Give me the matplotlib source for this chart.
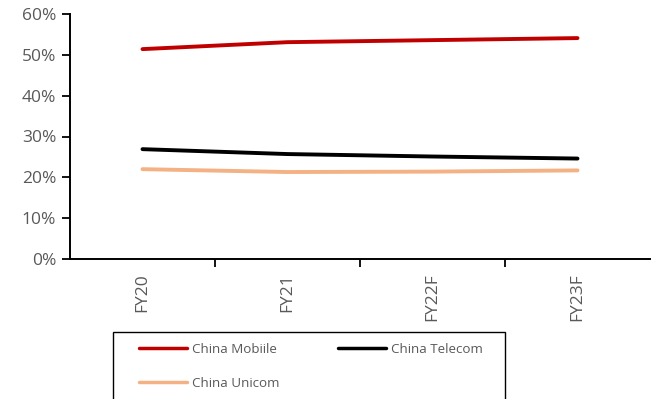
import matplotlib
matplotlib.use('Agg')
import matplotlib.pyplot as plt
from matplotlib.patches import Rectangle
from matplotlib.ticker import FuncFormatter

years = ['FY20', 'FY21', 'FY22F', 'FY23F']
china_mobile = [51.4, 53.1, 53.6, 54.1]
china_telecom = [26.9, 25.7, 25.1, 24.6]
china_unicom = [22.0, 21.3, 21.4, 21.7]

plt.rcParams['font.family'] = ['Open Sans', 'DejaVu Sans']
grey = '#595959'
W, H = 657, 399

fig = plt.figure(figsize=(6.57, 3.99), dpi=100)
ax = fig.add_axes([70 / W, 1 - 259 / H, 580 / W, 245 / H])

x = range(len(years))
l1, = ax.plot(x, china_mobile, color='#C00000', lw=2.8, solid_capstyle='round', label='China Mobiile')
l2, = ax.plot(x, china_telecom, color='black', lw=2.8, solid_capstyle='round', label='China Telecom')
l3, = ax.plot(x, china_unicom, color='#F4B183', lw=2.8, solid_capstyle='round', label='China Unicom')

ax.set_xlim(-0.5, len(years) - 0.5)
ax.set_ylim(0, 60)
ax.set_yticks(range(0, 61, 10))
ax.yaxis.set_major_formatter(FuncFormatter(lambda v, p: f'{v:.0f}%'))

ax.set_xticks(list(x))
ax.set_xticklabels(years, rotation=90, va='top', ha='center')
ax.set_xticks([i + 0.5 for i in range(len(years) - 1)], minor=True)
ax.tick_params(axis='x', which='major', length=0, pad=10, labelsize=12.5, labelcolor=grey)
ax.tick_params(axis='x', which='minor', length=6, width=1.3, direction='out', color='black')
ax.tick_params(axis='y', length=6, width=1.3, labelsize=12.5, labelcolor=grey, pad=4)

for s in ['top', 'right']:
    ax.spines[s].set_visible(False)
for s in ['left', 'bottom']:
    ax.spines[s].set_linewidth(1.4)

# legend box drawn by hand, runs off the bottom edge like the original
fig.patches.append(Rectangle((113 / W, -0.02), 392 / W, (H - 332) / H + 0.02,
                             transform=fig.transFigure, fill=False, ec='black', lw=1.0))

# order so that rows read Mobile, Telecom / Unicom
leg = fig.legend([l1, l3, l2], ['China Mobiile', 'China Unicom', 'China Telecom'],
                 loc='upper left', bbox_to_anchor=(139 / W, 1 - 343 / H),
                 ncol=2, fontsize=9.6, frameon=False, handlelength=3.6,
                 handletextpad=0.35, columnspacing=4.4, labelspacing=1.55,
                 labelcolor=grey, borderpad=0, borderaxespad=0)
for h in leg.legend_handles:
    h.set_linewidth(2.5)

fig.savefig('out.png', dpi=100)
